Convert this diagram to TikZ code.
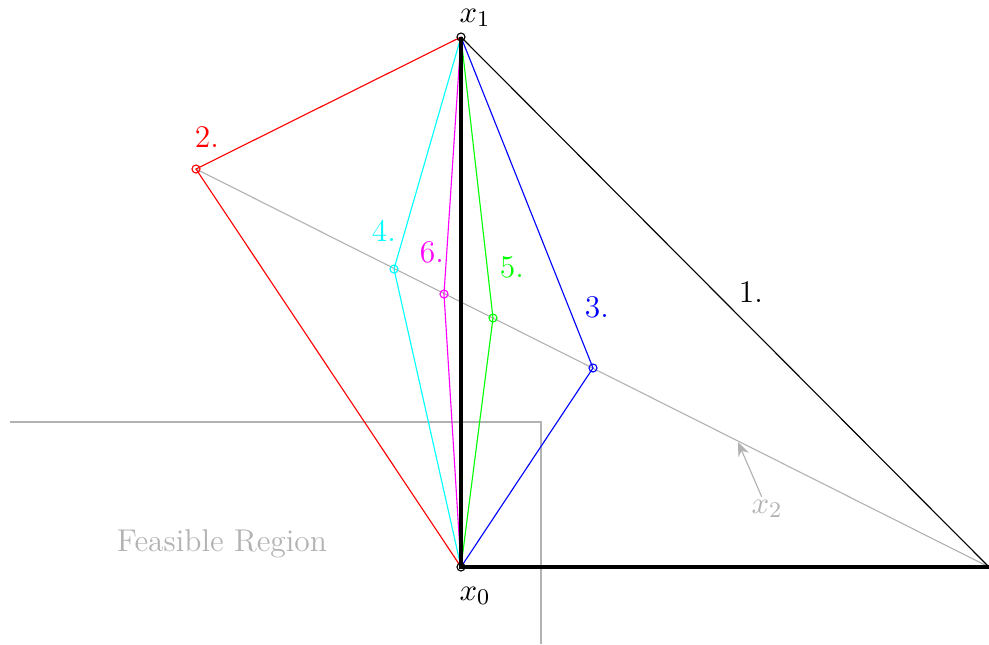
\documentclass[tikz,border=0pt]{standalone}
\usetikzlibrary{arrows.meta}
\definecolor{pcyan}{RGB}{0,255,255}
\definecolor{pmag}{RGB}{255,0,255}
\definecolor{pgreen}{RGB}{0,255,0}
\definecolor{pred}{RGB}{255,0,0}
\definecolor{pblue}{RGB}{0,0,255}
\definecolor{pgray}{RGB}{178,178,178}
\begin{document}
\begin{tikzpicture}[x=0.0125cm,y=-0.0125cm,
  pt/.style={circle,draw,inner sep=0pt,minimum size=0.1cm},
  lbl/.style={inner sep=1pt,font=\fontsize{11.2}{13}\selectfont}]
\useasboundingbox (0,0) rectangle (989,644);
% points
\coordinate (X0) at (461,567);
\coordinate (X1) at (461,37);
\coordinate (R) at (989,567);
\coordinate (P2) at (196,169);
\coordinate (P4) at (394,269);
\coordinate (P6) at (444,294);
\coordinate (P5) at (493,318);
\coordinate (P3) at (593,368);
% feasible region box
\coordinate (B1) at (10,422);
\coordinate (B2) at (541,422);
\coordinate (B3) at (541,644);
\draw[pgray,thick] (B1) -- (B2) -- (B3);
\node[lbl,pgray] (FR) at (222,544) {Feasible Region};
% gray line
\draw[pgray] (P2) -- (R);
% colored paths
\draw[pred] (X1) -- (P2) -- (X0);
\draw[pcyan] (X1) -- (P4) -- (X0);
\draw[pmag] (X1) -- (P6) -- (X0);
\draw[pgreen] (X1) -- (P5) -- (X0);
\draw[pblue] (X1) -- (P3) -- (X0);
% black
\draw (X1) -- (R);
\draw[line width=1.3pt] (X1) -- (X0) -- (R);
% circles
\node[pt,pred] (C2) at (P2) {};
\node[pt,pcyan] (C4) at (P4) {};
\node[pt,pmag] (C6) at (P6) {};
\node[pt,pgreen] (C5) at (P5) {};
\node[pt,pblue] (C3) at (P3) {};
\node[pt] (C0) at (X0) {};
\node[pt] (C1) at (X1) {};
% labels
\node[lbl] (L1) at (751,292) {1.};
\node[lbl,pred] (L2) at (207,137) {2.};
\node[lbl,pblue] (L3) at (597,307) {3.};
\node[lbl,pcyan] (L4) at (384,231) {4.};
\node[lbl,pgreen] (L5) at (512,267) {5.};
\node[lbl,pmag] (L6) at (432,252) {6.};
\node[lbl] (LX1) at (475,18) {$x_1$};
\node[lbl] (LX0) at (475,596) {$x_0$};
\node[lbl,pgray] (LX2) at (767,509) {$x_2$};
\coordinate (A2) at (738,442);
\draw[pgray,-{Stealth[length=5pt,width=4pt]}] (LX2) -- (A2);
\end{tikzpicture}
\end{document}
